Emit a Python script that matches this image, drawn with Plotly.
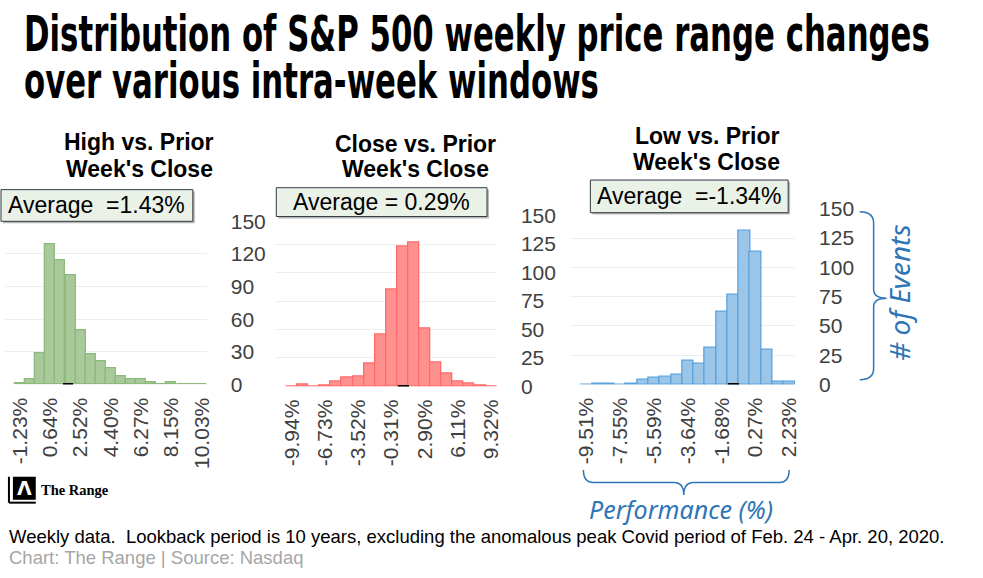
import plotly.graph_objects as go

W, H = 983, 578

# ---------------- data ----------------
high_bins = ['-1.23%', '-0.60%', '0.02%', '0.64%', '1.27%', '1.90%', '2.52%', '3.15%', '3.77%', '4.40%',
             '5.02%', '5.65%', '6.27%', '6.90%', '7.52%', '8.15%', '8.78%', '9.40%', '10.03%']
high_counts = [1, 5, 29, 129, 114, 100, 50, 28, 21, 15, 8, 5, 5, 2, 0, 2, 0, 0, 0]
high_ticks = ['-1.23%', '0.64%', '2.52%', '4.40%', '6.27%', '8.15%', '10.03%']
high_yticks = [0, 30, 60, 90, 120, 150]
high_avg = 1.43

close_bins = ['-9.94%', '-8.87%', '-7.80%', '-6.73%', '-5.66%', '-4.59%', '-3.52%', '-2.45%', '-1.38%', '-0.31%',
              '0.76%', '1.83%', '2.90%', '3.97%', '5.04%', '6.11%', '7.18%', '8.25%', '9.32%']
close_counts = [0, 2, 0, 1, 4, 8, 9, 20, 46, 85, 123, 126, 51, 21, 11, 4, 3, 1, 0]
close_ticks = ['-9.94%', '-6.73%', '-3.52%', '-0.31%', '2.90%', '6.11%', '9.32%']
close_yticks = [0, 25, 50, 75, 100, 125, 150]
close_avg = 0.29

low_bins = ['-9.51%', '-8.86%', '-8.20%', '-7.55%', '-6.90%', '-6.24%', '-5.59%', '-4.94%', '-4.29%', '-3.64%',
            '-2.98%', '-2.33%', '-1.68%', '-1.03%', '-0.37%', '0.27%', '0.92%', '1.58%', '2.23%']
low_counts = [0, 1, 1, 0, 1, 4, 6, 7, 8, 20, 18, 31, 62, 77, 131, 113, 30, 2, 2]
low_ticks = ['-9.51%', '-7.55%', '-5.59%', '-3.64%', '-1.68%', '0.27%', '2.23%']
low_yticks = [0, 25, 50, 75, 100, 125, 150]
low_avg = -1.34

main_title = ("Distribution of S&P 500 weekly price range changes", "over various intra-week windows")
title_lines = [("High vs. Prior", "Week's Close"), ("Close vs. Prior", "Week's Close"), ("Low vs. Prior", "Week's Close")]
avg_labels = ["Average  =", "Average = ", "Average  ="]


def px(x):
    return x / W


def py(y):
    return 1 - y / H


def num(s):
    return float(s.rstrip('%'))


panels = [
    dict(bins=high_bins, counts=high_counts, ticks=high_ticks, yticks=high_yticks, avg=high_avg,
         fill='#a9c99b', line='#8cba7a', xpx=(5, 208), ypx=(218, 388),
         tpos=(140, 137, 165), box=(1, 185, 194, 218)),
    dict(bins=close_bins, counts=close_counts, ticks=close_ticks, yticks=close_yticks, avg=close_avg,
         fill='#ff9090', line='#ff6a6a', xpx=(277, 500), ypx=(212, 390),
         tpos=(418, 139, 166), box=(278, 183, 490, 213)),
    dict(bins=low_bins, counts=low_counts, ticks=low_ticks, yticks=low_yticks, avg=low_avg,
         fill='#9cc6e8', line='#5aa2dc', xpx=(573, 800), ypx=(205, 388),
         tpos=(711, 131, 158), box=(594, 175, 793, 209)),
]

fig = go.Figure()
shapes = []
annotations = []
layout_axes = {}

for i, p in enumerate(panels, start=1):
    xs = [num(b) for b in p['bins']]
    bw = (xs[-1] - xs[0]) / (len(xs) - 1)
    xa = 'x' if i == 1 else f'x{i}'
    ya = 'y' if i == 1 else f'y{i}'
    fig.add_trace(go.Bar(
        x=xs, y=p['counts'], width=bw, xaxis=xa, yaxis=ya,
        marker=dict(color=p['fill'], line=dict(color=p['line'], width=1.3)),
        hoverinfo='skip', showlegend=False))
    xkey = 'xaxis' if i == 1 else f'xaxis{i}'
    ykey = 'yaxis' if i == 1 else f'yaxis{i}'
    layout_axes[xkey] = dict(
        domain=[px(p['xpx'][0]), px(p['xpx'][1])], anchor=ya,
        range=[xs[0] - 1.5 * bw, xs[-1] + 0.5 * bw],
        tickmode='array', tickvals=[num(t) for t in p['ticks']], ticktext=p['ticks'],
        tickangle=-90, tickfont=dict(family='Liberation Sans, Arial', size=21, color='#404040'),
        showgrid=False, zeroline=False, showline=False, ticks='', ticklabelstandoff=8,
        fixedrange=True)
    layout_axes[ykey] = dict(
        domain=[py(p['ypx'][1]), py(p['ypx'][0])], anchor=xa, side='right',
        range=[0, 150], tickmode='array', tickvals=p['yticks'],
        tickfont=dict(family='Liberation Sans, Arial', size=21, color='#404040'),
        showgrid=True, gridcolor='#eeeeee', gridwidth=1, zeroline=False, showline=False,
        ticks='', ticklabelstandoff=23, fixedrange=True)
    # mean marker at the base
    shapes.append(dict(type='line', xref=xa, yref=ya, x0=p['avg'], x1=p['avg'] + bw, y0=0, y1=0,
                       line=dict(color='black', width=3), layer='above'))
    # panel title (two lines)
    tx, ty1, ty2 = p['tpos']
    for line_text, ty in zip(title_lines[i - 1], (ty1, ty2)):
        annotations.append(dict(text='<b>' + line_text + '</b>', x=px(tx), y=py(ty - 2),
                                xref='paper', yref='paper', showarrow=False, xanchor='center', yanchor='middle',
                                font=dict(family='Liberation Sans, Arial', size=23, color='black')))
    # average box (shadow + box)
    bx0, by0, bx1, by1 = p['box']
    shapes.append(dict(type='rect', xref='paper', yref='paper', x0=px(bx0 + 2), x1=px(bx1 + 2),
                       y0=py(by1 + 2), y1=py(by0 + 2), fillcolor='#b8b8b8', line=dict(width=0), layer='above'))
    shapes.append(dict(type='rect', xref='paper', yref='paper', x0=px(bx0), x1=px(bx1),
                       y0=py(by1), y1=py(by0), fillcolor='#eaf1e7', line=dict(color='#2f3a44', width=1),
                       layer='above'))
    annotations.append(dict(text=f"{avg_labels[i - 1]}{p['avg']:.2f}%", x=px((bx0 + bx1) / 2), y=py((by0 + by1) / 2),
                            xref='paper', yref='paper', showarrow=False, xanchor='center', yanchor='middle',
                            font=dict(family='Liberation Sans, Arial', size=23, color='black')))

# main title: one two-line text; the post script condenses it horizontally,
# stretches it vertically and tightens the leading to imitate the original heavy condensed face
title_font = dict(family='DejaVu Sans, Liberation Sans', size=40, color='black')
annotations.append(dict(text='<b>' + main_title[0] + '</b><br><b>' + main_title[1] + '</b>',
                        x=px(22), y=py(4), xref='paper', yref='paper', showarrow=False,
                        xanchor='left', yanchor='top', align='left', font=title_font))

# footnotes
annotations.append(dict(text='Weekly data.  Lookback period is 10 years, excluding the anomalous peak Covid period of Feb. 24 - Apr. 20, 2020.',
                        x=px(7), y=py(546), xref='paper', yref='paper', showarrow=False, xanchor='left',
                        yanchor='middle', font=dict(family='Liberation Sans, Arial', size=18.5, color='black')))
annotations.append(dict(text='Chart: The Range | Source: Nasdaq',
                        x=px(7), y=py(568), xref='paper', yref='paper', showarrow=False, xanchor='left',
                        yanchor='middle', font=dict(family='Liberation Sans, Arial', size=18.5, color='#a6a6a6')))

# logo
shapes.append(dict(type='line', xref='paper', yref='paper', x0=px(9), x1=px(9), y0=py(484), y1=py(511),
                   line=dict(color='black', width=2)))
shapes.append(dict(type='line', xref='paper', yref='paper', x0=px(9), x1=px(36), y0=py(511), y1=py(511),
                   line=dict(color='black', width=2)))
shapes.append(dict(type='rect', xref='paper', yref='paper', x0=px(13), x1=px(36), y0=py(508), y1=py(484),
                   fillcolor='black', line=dict(width=0)))
annotations.append(dict(text='<b>Λ</b>', x=px(24.5), y=py(496), xref='paper', yref='paper', showarrow=False,
                        xanchor='center', yanchor='middle',
                        font=dict(family='DejaVu Sans', size=19, color='white')))
annotations.append(dict(text='<b>The Range</b>', x=px(39), y=py(498), xref='paper', yref='paper', showarrow=False,
                        xanchor='left', yanchor='middle',
                        font=dict(family='Liberation Serif, Times New Roman', size=14.5, color='black')))


# braces
def path_px(cmds):
    out = []
    for c in cmds:
        if isinstance(c, str):
            out.append(c)
        else:
            out.append(f"{px(c[0]):.5f},{py(c[1]):.5f}")
    return ' '.join(out)


blue = '#2e75b6'
bottom_brace = path_px(['M', (587, 477), 'Q', (587, 490), (597, 490), 'L', (678, 490),
                        'Q', (688, 490), (688, 503), 'Q', (688, 490), (698, 490), 'L', (784, 490),
                        'Q', (794, 490), (794, 477)])
right_brace = path_px(['M', (865, 208), 'Q', (879, 208), (879, 220), 'L', (879, 289),
                       'Q', (879, 298), (892, 298), 'Q', (879, 298), (879, 307), 'L', (879, 371),
                       'Q', (879, 383), (865, 383)])
shapes.append(dict(type='path', xref='paper', yref='paper', path=bottom_brace, line=dict(color=blue, width=1.5)))
shapes.append(dict(type='path', xref='paper', yref='paper', path=right_brace, line=dict(color=blue, width=1.5)))

annotations.append(dict(text='<i>Performance (%)</i>', x=px(685), y=py(518), xref='paper', yref='paper',
                        showarrow=False, xanchor='center', yanchor='middle',
                        font=dict(family='Noto Sans, DejaVu Sans', size=25, color=blue)))
annotations.append(dict(text='<i># of Events</i>', x=px(905), y=py(292), xref='paper', yref='paper',
                        showarrow=False, xanchor='center', yanchor='middle', textangle=-90,
                        font=dict(family='Noto Sans, DejaVu Sans', size=28, color=blue)))

fig.update_layout(
    width=W, height=H, margin=dict(l=0, r=0, t=0, b=0),
    paper_bgcolor='white', plot_bgcolor='white', showlegend=False, bargap=0,
    shapes=shapes, annotations=annotations, hovermode=False,
    **layout_axes)

post = """
document.documentElement.style.margin='0';
document.documentElement.style.overflow='hidden';
document.body.style.margin='0';
document.body.style.padding='0';
document.body.style.overflow='hidden';
(function(){
  var gd = document.getElementById('{plot_id}');
  var SY = 1.25, FS = 40, LEAD = 47, TARGET_W = 906, TOP = 4;
  function fix(){
    var t = null;
    Array.prototype.slice.call(gd.querySelectorAll('text.annotation-text')).forEach(function(e){
      if (e.textContent.indexOf('Distribution of') === 0) t = e;
    });
    if (!t) return;
    t.removeAttribute('transform');
    var lines = t.querySelectorAll('tspan.line');
    if (lines.length > 1) { lines[1].setAttribute('dy', (LEAD / SY / FS) + 'em'); }
    var w = lines.length ? lines[0].getComputedTextLength() : t.getBBox().width;
    var sx = TARGET_W / w;
    var b = t.getBBox();
    var base = 'translate(' + b.x + ',' + b.y + ') scale(' + sx + ',' + SY + ') translate(' + (-b.x) + ',' + (-b.y) + ')';
    t.setAttribute('transform', base);
    var r = t.getBoundingClientRect();
    var g = gd.getBoundingClientRect();
    var dy = TOP - (r.top - g.top);
    t.setAttribute('transform', 'translate(0,' + dy + ') ' + base);
  }
  fix();
  if (document.fonts && document.fonts.ready) { document.fonts.ready.then(fix); }
  if (gd.on) { gd.on('plotly_afterplot', fix); }
})();
"""

fig.write_html('out.html', config={'displayModeBar': False, 'responsive': False}, post_script=post)
